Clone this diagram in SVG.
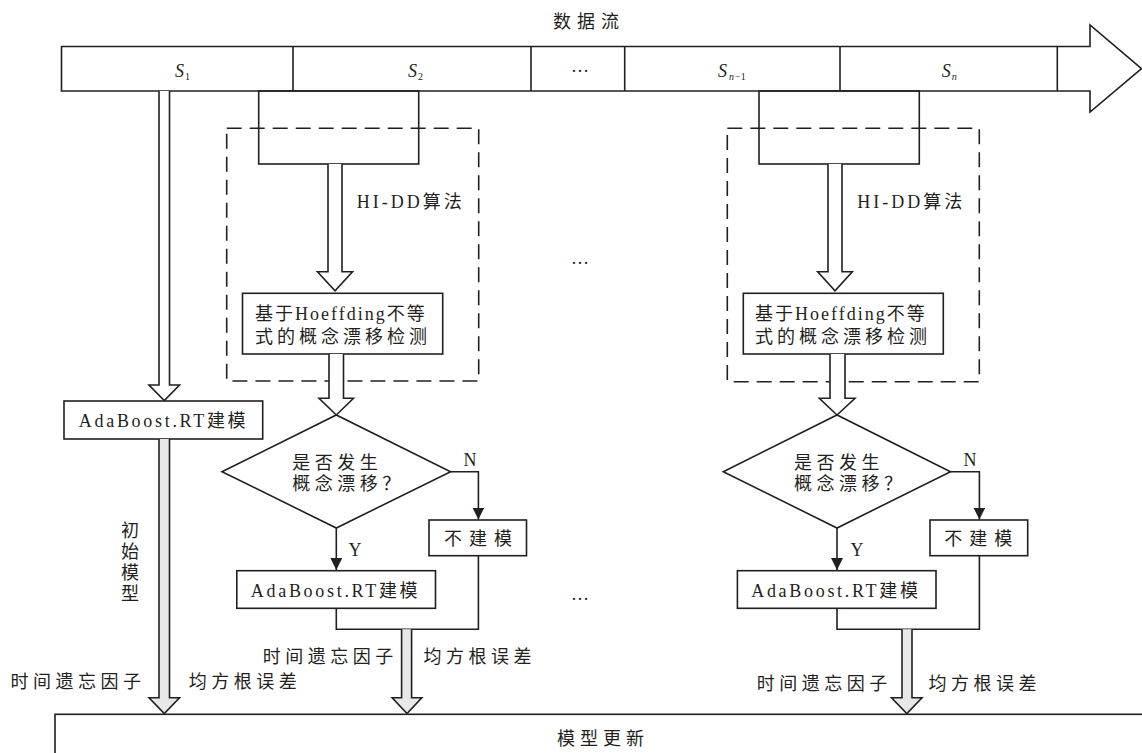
<svg xmlns="http://www.w3.org/2000/svg" width="1142" height="753" viewBox="0 0 1142 753">
<defs>
<style>
.ln{fill:none;stroke:#231f20;stroke-width:1.6}
.bx{fill:#fff;stroke:#231f20;stroke-width:1.6}
.dash{fill:none;stroke:#231f20;stroke-width:1.6;stroke-dasharray:15 8}
.wa{fill:#fff;stroke:#231f20;stroke-width:1.6;stroke-linejoin:miter}
.ga{fill:#e8e8e8;stroke:#231f20;stroke-width:1.6;stroke-linejoin:miter}
.t{font-family:"Liberation Serif","Noto Sans CJK SC",serif;font-size:18px;fill:#231f20}
.c{letter-spacing:4.5px}
.m{letter-spacing:2.7px}
.it{font-style:italic}
.sub{font-size:10px}
</style>
<marker id="ah" markerUnits="userSpaceOnUse" markerWidth="12" markerHeight="12" viewBox="0 0 12 12" refX="12" refY="6" orient="auto">
<path d="M0,0 L12,6 L0,12 Z" fill="#231f20"/>
</marker>
</defs>
<rect width="1142" height="753" fill="#fff"/>

<g id="stream">
<text class="t" x="553" y="28" style="letter-spacing:6px">数据流</text>
<path class="bx" d="M61.5,46.5 H1090 V25 L1141.5,68.7 L1090,112 V91 H61.5 Z"/>
<path class="ln" d="M293,46.5 V91 M531,46.5 V91 M624.7,46.5 V91 M840,46.5 V91 M1057.3,46.5 V91"/>
<text class="t it" x="175" y="77">S<tspan class="sub" dx="1" dy="3" style="font-style:normal">1</tspan></text>
<text class="t it" x="408" y="77">S<tspan class="sub" dx="1" dy="3" style="font-style:normal">2</tspan></text>
<text class="t" x="580" y="72" text-anchor="middle">…</text>
<text class="t it" x="718" y="77">S<tspan class="sub" dx="2" dy="3">n</tspan><tspan class="sub" dx="1" style="font-style:normal">−1</tspan></text>
<text class="t it" x="941.7" y="77">S<tspan class="sub" dx="1" dy="3">n</tspan></text>
</g>

<g id="initial-branch">
<path class="wa" d="M159,91 V385 H149 L164.3,400.5 L179.5,385 H169.5 V91"/>
<rect id="adaboost-init" class="bx" x="64" y="401" width="198.7" height="38"/>
<text class="t m" x="78.8" y="427.3">AdaBoost.RT建模</text>
</g>

<g id="hidd-left">
<rect class="dash" x="226.7" y="128.3" width="252" height="252.7"/>
<rect class="ln" x="258.7" y="91" width="160" height="73"/>
<text class="t" x="356.7" y="208.3" style="letter-spacing:3px">HI-DD算法</text>
<rect class="bx" x="242.5" y="293.3" width="200.2" height="60.7"/>
<text class="t" x="255" y="320" style="letter-spacing:2px">基于Hoeffding不等</text>
<text class="t" x="255" y="342.5" style="letter-spacing:4px">式的概念漂移检测</text>
</g>

<g id="hidd-right">
<rect class="dash" x="727.3" y="128.3" width="252" height="253.4"/>
<rect class="ln" x="759" y="91" width="160.3" height="73"/>
<text class="t" x="857.3" y="208.3" style="letter-spacing:3px">HI-DD算法</text>
<rect class="bx" x="743.3" y="293.3" width="200" height="60.7"/>
<text class="t" x="755" y="320" style="letter-spacing:2px">基于Hoeffding不等</text>
<text class="t" x="755" y="342.5" style="letter-spacing:4px">式的概念漂移检测</text>
</g>

<g id="decision-left">
<polygon class="bx" points="222,471.7 336.3,415 450.6,471.7 336.3,528"/>
<text class="t c" x="292.3" y="469">是否发生</text>
<text class="t c" x="292.3" y="490">概念漂移？</text>
</g>
<g id="decision-right">
<polygon class="bx" points="723.3,471.7 837,415 950.5,471.7 837,528"/>
<text class="t c" x="793.9" y="469">是否发生</text>
<text class="t c" x="793.9" y="490">概念漂移？</text>
</g>

<g id="nomodel-left">
<rect class="bx" x="429" y="520" width="97.5" height="35.7"/>
<text class="t" x="444" y="544.5" style="letter-spacing:7px">不建模</text>
</g>
<g id="nomodel-right">
<rect class="bx" x="930" y="520" width="97.7" height="35.7"/>
<text class="t" x="944.2" y="544.5" style="letter-spacing:7px">不建模</text>
</g>

<g id="adaboost-left">
<rect class="bx" x="236.8" y="570.7" width="198.7" height="37.6"/>
<text class="t m" x="250.8" y="596.7">AdaBoost.RT建模</text>
</g>
<g id="adaboost-right">
<rect class="bx" x="737.4" y="570.7" width="198.6" height="37.6"/>
<text class="t m" x="751.2" y="596.7">AdaBoost.RT建模</text>
</g>

<g id="update">
<rect class="bx" x="55" y="714.3" width="1100" height="100"/>
<text class="t" x="557" y="745" style="letter-spacing:5px">模型更新</text>
</g>

<g id="connectors">
<path class="wa" d="M328,164 V271.7 H317.5 L335,290.7 L352.5,271.7 H342 V164"/>
<path class="wa" d="M329,354 V398.3 H319 L336.3,415 L353.5,398.3 H343.5 V354"/>
<path class="wa" d="M828,164 V271.7 H817.7 L835,290.7 L852.3,271.7 H842 V164"/>
<path class="wa" d="M830,354 V398.3 H819.3 L837,415 L855,398.3 H845 V354"/>

<path class="ln" d="M450.6,471.7 H478.4 V519.5" marker-end="url(#ah)"/>
<path class="ln" d="M336.3,528 V570" marker-end="url(#ah)"/>
<path class="ln" d="M950.5,471.7 H979.4 V519.5" marker-end="url(#ah)"/>
<path class="ln" d="M837,528 V570" marker-end="url(#ah)"/>

<path class="ln" d="M336.3,608.3 V629.3 H478.4 V555.7"/>
<path class="ln" d="M837,608.3 V629.3 H979.4 V555.7"/>

<path class="ga" d="M159,439 V697.7 H149 L164.3,713.6 L179.5,697.7 H169.5 V439"/>
<path class="ga" d="M401.6,629.3 V697.7 H392.2 L407,713.6 L421.8,697.7 H411.6 V629.3"/>
<path class="ga" d="M902,629.3 V697.7 H891.5 L906.8,713.6 L922,697.7 H912 V629.3"/>

<text class="t" x="470" y="465.5" text-anchor="middle">N</text>
<text class="t" x="355" y="556" text-anchor="middle">Y</text>
<text class="t" x="970" y="465.5" text-anchor="middle">N</text>
<text class="t" x="857" y="556" text-anchor="middle">Y</text>

<text class="t" x="121" y="536.5"><tspan x="121" y="536.5">初</tspan><tspan x="121" y="557.5">始</tspan><tspan x="121" y="578.5">模</tspan><tspan x="121" y="600">型</tspan></text>

<text class="t c" x="10.4" y="688">时间遗忘因子</text>
<text class="t c" x="188.7" y="688">均方根误差</text>
<text class="t c" x="262.7" y="662.5">时间遗忘因子</text>
<text class="t c" x="423.6" y="662.5">均方根误差</text>
<text class="t c" x="756.7" y="690">时间遗忘因子</text>
<text class="t c" x="928.6" y="690">均方根误差</text>

<text class="t" x="580" y="264" text-anchor="middle">…</text>
<text class="t" x="580" y="600" text-anchor="middle">…</text>
</g>
</svg>
